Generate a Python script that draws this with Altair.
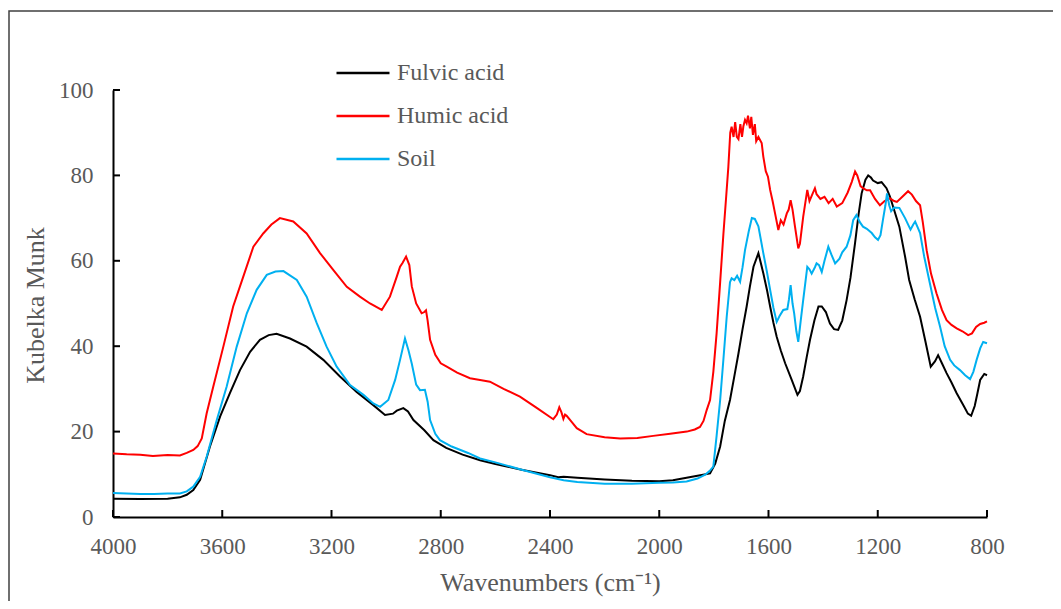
import altair as alt
import pandas as pd

# ---------------- data ----------------
fulvic_x = [4000, 3900, 3800, 3755, 3730, 3706, 3681, 3645, 3608, 3572, 3535, 3498, 3462, 3430, 3401,
            3352, 3291, 3230, 3169, 3108, 3047, 3004, 2975, 2961, 2937, 2920, 2900, 2860, 2827, 2780,
            2720, 2656, 2600, 2500, 2400, 2370, 2350, 2300, 2200, 2100, 2000, 1950, 1900, 1850, 1814,
            1795, 1777, 1760, 1741, 1725, 1710, 1695, 1680, 1668, 1655, 1637, 1619, 1605, 1594, 1582,
            1570, 1555, 1539, 1515, 1494, 1485, 1473, 1460, 1448, 1432, 1417, 1405, 1390, 1375, 1360,
            1345, 1330, 1314, 1300, 1283, 1270, 1259, 1245, 1235, 1225, 1217, 1200, 1186, 1168, 1155,
            1144, 1121, 1100, 1085, 1065, 1045, 1025, 1006, 990, 979, 965, 948, 930, 911, 885, 870,
            858, 845, 835, 825, 810, 800]
fulvic_y = [4.3, 4.2, 4.3, 4.6, 5.2, 6.3, 8.7, 16.5, 23.5, 29.0, 34.4, 38.7, 41.5, 42.6, 42.9,
            41.8, 39.9, 36.8, 32.9, 29.3, 26.2, 23.9, 24.2, 24.9, 25.5, 24.7, 22.7, 20.3, 18.0, 16.2,
            14.6, 13.3, 12.4, 11.0, 9.8, 9.3, 9.4, 9.2, 8.8, 8.5, 8.4, 8.6, 9.2, 9.8, 10.2,
            12.5, 16.5, 22.5, 27.4, 33.0, 38.3, 44.0, 49.3, 54.0, 58.6, 61.8, 57.1, 53.0, 49.3, 45.5,
            42.2, 39.0, 36.0, 32.1, 28.6, 29.5, 32.9, 37.5, 41.5, 46.0, 49.3, 49.3, 48.0, 45.3, 44.0,
            43.8, 46.0, 50.8, 56.0, 64.2, 71.0, 75.8, 79.0, 80.0, 79.5, 78.8, 78.2, 78.4, 77.0, 75.0,
            72.7, 68.0, 61.0, 55.5, 51.0, 46.9, 41.0, 35.2, 36.5, 37.9, 36.0, 33.7, 31.5, 29.0, 26.0, 24.2,
            23.7, 26.0, 29.0, 32.1, 33.5, 33.2]

humic_x = [4000, 3950, 3900, 3854, 3800, 3755, 3730, 3706, 3690, 3675, 3657, 3633, 3596, 3560, 3523,
           3486, 3450, 3420, 3389, 3340, 3291, 3242, 3193, 3144, 3096, 3059, 3016, 2986, 2961, 2949,
           2940, 2927, 2915, 2906, 2890, 2870, 2860, 2854, 2848, 2839, 2820, 2800, 2778, 2740, 2693,
           2656, 2620, 2570, 2510, 2450, 2388, 2375, 2366, 2358, 2351, 2345, 2339, 2320, 2302, 2266,
           2200, 2143, 2080, 2022, 1960, 1899, 1870, 1851, 1838, 1826, 1814, 1802, 1790, 1777, 1765,
           1755, 1747, 1740, 1735, 1728, 1722, 1716, 1710, 1703, 1697, 1692, 1686, 1680, 1675, 1668,
           1663, 1657, 1650, 1645, 1637, 1625, 1619, 1610, 1602, 1594, 1585, 1576, 1564, 1555, 1545,
           1533, 1526, 1519, 1512, 1503, 1491, 1485, 1473, 1458, 1450, 1440, 1430, 1424, 1410, 1395,
           1380, 1365, 1350, 1330, 1310, 1295, 1283, 1275, 1263, 1254, 1240, 1228, 1210, 1192, 1175,
           1155, 1140, 1130, 1110, 1089, 1075, 1060, 1045, 1035, 1021, 1005, 985, 965, 948, 930,
           911, 890, 869, 855, 840, 825, 810, 800]
humic_y = [14.9, 14.7, 14.6, 14.3, 14.5, 14.4, 15.0, 15.7, 16.6, 18.4, 24.3, 30.5, 39.9, 49.3, 56.3,
           63.3, 66.4, 68.5, 70.0, 69.2, 66.4, 61.8, 57.8, 53.9, 51.6, 50.0, 48.5, 51.6, 56.3, 58.6,
           59.5, 61.0, 59.0, 54.0, 50.0, 47.7, 48.0, 48.4, 46.0, 41.5, 38.0, 36.0, 35.2, 33.8, 32.5,
           32.1, 31.7, 30.0, 28.2, 25.6, 22.9, 24.0, 25.7, 24.5, 23.0, 24.0, 23.7, 22.2, 20.8, 19.4,
           18.7, 18.4, 18.5, 19.0, 19.5, 20.0, 20.5, 21.1, 22.5, 25.1, 27.4, 34.0, 43.0, 55.0, 66.4,
           75.0, 82.0, 90.0, 91.4, 89.0, 92.5, 89.0, 88.5, 92.0, 89.0, 91.5, 93.0, 92.2, 94.0, 91.0,
           93.7, 89.5, 92.0, 88.0, 89.0, 87.6, 84.4, 81.0, 79.7, 76.6, 74.0, 71.1, 67.2, 69.5, 68.5,
           71.1, 72.0, 74.2, 72.0, 68.0, 62.9, 64.0, 70.3, 76.6, 74.0, 75.5, 77.0, 75.6, 74.5, 75.0,
           73.5, 74.5, 72.7, 73.5, 76.0, 78.5, 80.9, 80.0, 77.5, 77.0, 76.5, 76.5, 74.5, 73.0, 74.0,
           74.6, 74.0, 73.8, 75.0, 76.3, 75.5, 74.0, 73.0, 69.0, 62.5, 57.0, 52.4, 48.5, 46.1, 45.0,
           44.2, 43.5, 42.6, 43.0, 44.5, 45.2, 45.5, 45.8]

soil_x = [4000, 3950, 3900, 3850, 3800, 3755, 3730, 3706, 3681, 3657, 3620, 3584, 3547, 3510, 3474,
          3437, 3405, 3376, 3327, 3291, 3254, 3218, 3181, 3132, 3083, 3047, 3022, 2992, 2967, 2949,
          2931, 2918, 2906, 2890, 2876, 2858, 2848, 2839, 2820, 2803, 2760, 2700, 2656, 2600, 2500,
          2400, 2350, 2300, 2200, 2100, 2000, 1950, 1900, 1860, 1830, 1815, 1802, 1790, 1777, 1765,
          1753, 1741, 1735, 1725, 1715, 1704, 1695, 1686, 1672, 1661, 1650, 1637, 1619, 1606, 1594,
          1582, 1570, 1560, 1546, 1531, 1525, 1519, 1512, 1506, 1498, 1491, 1482, 1473, 1458, 1450,
          1442, 1430, 1424, 1415, 1405, 1395, 1381, 1370, 1356, 1340, 1330, 1314, 1300, 1290, 1278,
          1265, 1254, 1240, 1222, 1210, 1199, 1190, 1181, 1172, 1166, 1158, 1151, 1140, 1121, 1100,
          1080, 1070, 1063, 1055, 1045, 1030, 1009, 990, 972, 955, 935, 920, 899, 880, 862, 850,
          838, 825, 814, 800]
soil_y = [5.6, 5.5, 5.4, 5.4, 5.5, 5.5, 6.0, 7.1, 9.4, 14.1, 22.7, 30.5, 39.9, 47.7, 53.2,
          56.7, 57.5, 57.6, 55.5, 51.6, 45.4, 39.9, 35.2, 30.9, 28.6, 26.6, 25.8, 27.4, 32.1, 36.8,
          41.8, 39.0, 35.9, 31.0, 29.7, 29.8, 27.0, 22.7, 19.5, 18.0, 16.5, 15.0, 13.7, 12.8, 11.0,
          9.3, 8.6, 8.2, 7.8, 7.8, 8.0, 8.1, 8.3, 9.0, 10.0, 10.8, 11.8, 19.0, 27.4, 37.0,
          46.9, 55.0, 55.9, 55.5, 56.5, 55.1, 58.5, 62.5, 67.0, 70.0, 69.8, 68.1, 61.8, 57.5, 53.2,
          49.0, 45.7, 47.0, 48.5, 48.7, 51.0, 54.3, 50.0, 47.7, 43.5, 41.0, 46.0, 50.8, 58.6, 58.0,
          57.0, 58.5, 59.4, 59.0, 57.4, 60.0, 63.3, 61.5, 59.4, 60.5, 62.0, 63.3, 66.0, 69.5, 70.7,
          69.0, 68.0, 67.5, 66.5, 65.5, 64.9, 66.0, 69.6, 73.0, 75.8, 73.0, 71.6, 72.5, 72.4, 70.0,
          67.3, 68.5, 69.2, 68.0, 66.5, 61.0, 54.7, 49.0, 44.6, 40.0, 36.8, 35.5, 34.4, 33.2, 32.3, 34.0,
          36.8, 39.5, 41.0, 40.7]

series_names = ["Fulvic acid", "Humic acid", "Soil"]
series_colors = ["#000000", "#FF0000", "#00B0F0"]
x_ticks = [4000, 3600, 3200, 2800, 2400, 2000, 1600, 1200, 800]
y_ticks = [0, 20, 40, 60, 80, 100]

frames = []
for name, xs, ys in zip(series_names, [fulvic_x, humic_x, soil_x], [fulvic_y, humic_y, soil_y]):
    frames.append(pd.DataFrame({"wn": xs, "km": ys, "series": name}))
df = pd.concat(frames, ignore_index=True)

FONT = "Liberation Serif"
GRAY = "#595959"
W, H = 874, 427

xscale = alt.Scale(domain=[800, 4000], reverse=True, nice=False, zero=False)
yscale = alt.Scale(domain=[0, 100], nice=False)

lines = alt.Chart(df).mark_line(strokeWidth=2).encode(
    x=alt.X("wn:Q", scale=xscale,
            axis=alt.Axis(values=x_ticks, format="d", title="Wavenumbers (cm\u207b\u00b9)",
                          ticks=False, grid=False, domainColor="black", domainWidth=2,
                          labelFont=FONT, labelFontSize=23, labelColor=GRAY, labelPadding=18,
                          labelFlush=False, labelOverlap=False,
                          titleFont=FONT, titleFontSize=26, titleFontWeight="normal", titleColor=GRAY,
                          titleX=W / 2, titleY=73, titleBaseline="alphabetic")),
    y=alt.Y("km:Q", scale=yscale,
            axis=alt.Axis(values=y_ticks, format="d", title="Kubelka Munk",
                          ticks=False, grid=False, domainColor="black", domainWidth=2,
                          labelFont=FONT, labelFontSize=23, labelColor=GRAY, labelPadding=20,
                          titleFont=FONT, titleFontSize=26, titleFontWeight="normal", titleColor=GRAY,
                          titleX=-70, titleY=215, titleAngle=270, titleAlign="center",
                          titleBaseline="alphabetic")),
    color=alt.Color("series:N",
                    scale=alt.Scale(domain=series_names, range=series_colors),
                    legend=alt.Legend(title=None, orient="none", legendX=222, legendY=-45,
                                      symbolType="stroke", symbolSize=2809, symbolStrokeWidth=2.5,
                                      labelFont=FONT, labelFontSize=24, labelColor=GRAY,
                                      labelOffset=6, rowPadding=3, padding=0)),
    detail="series:N",
)

xt = alt.Chart(pd.DataFrame({"t": x_ticks})).mark_rule(color="black", strokeWidth=2).encode(
    x=alt.X("t:Q", scale=xscale), y=alt.value(H), y2=alt.value(H - 7))
yt = alt.Chart(pd.DataFrame({"v": y_ticks})).mark_rule(color="black", strokeWidth=2).encode(
    y=alt.Y("v:Q", scale=yscale), x=alt.value(0), x2=alt.value(7))

frame = alt.Chart(pd.DataFrame({"a": [0]})).mark_rect(
    fillOpacity=0, stroke="#404040", strokeWidth=1.5).encode(
    x=alt.value(-104), x2=alt.value(1000), y=alt.value(-79), y2=alt.value(600))

chart = alt.layer(frame, lines, xt, yt).properties(
    width=W, height=H,
    autosize=alt.AutoSizeParams(type="none"),
    padding={"left": 105, "top": 82, "right": 66, "bottom": 84},
).configure_view(stroke=None)

chart.save("out.html", embed_options={"renderer": "svg", "actions": False})
